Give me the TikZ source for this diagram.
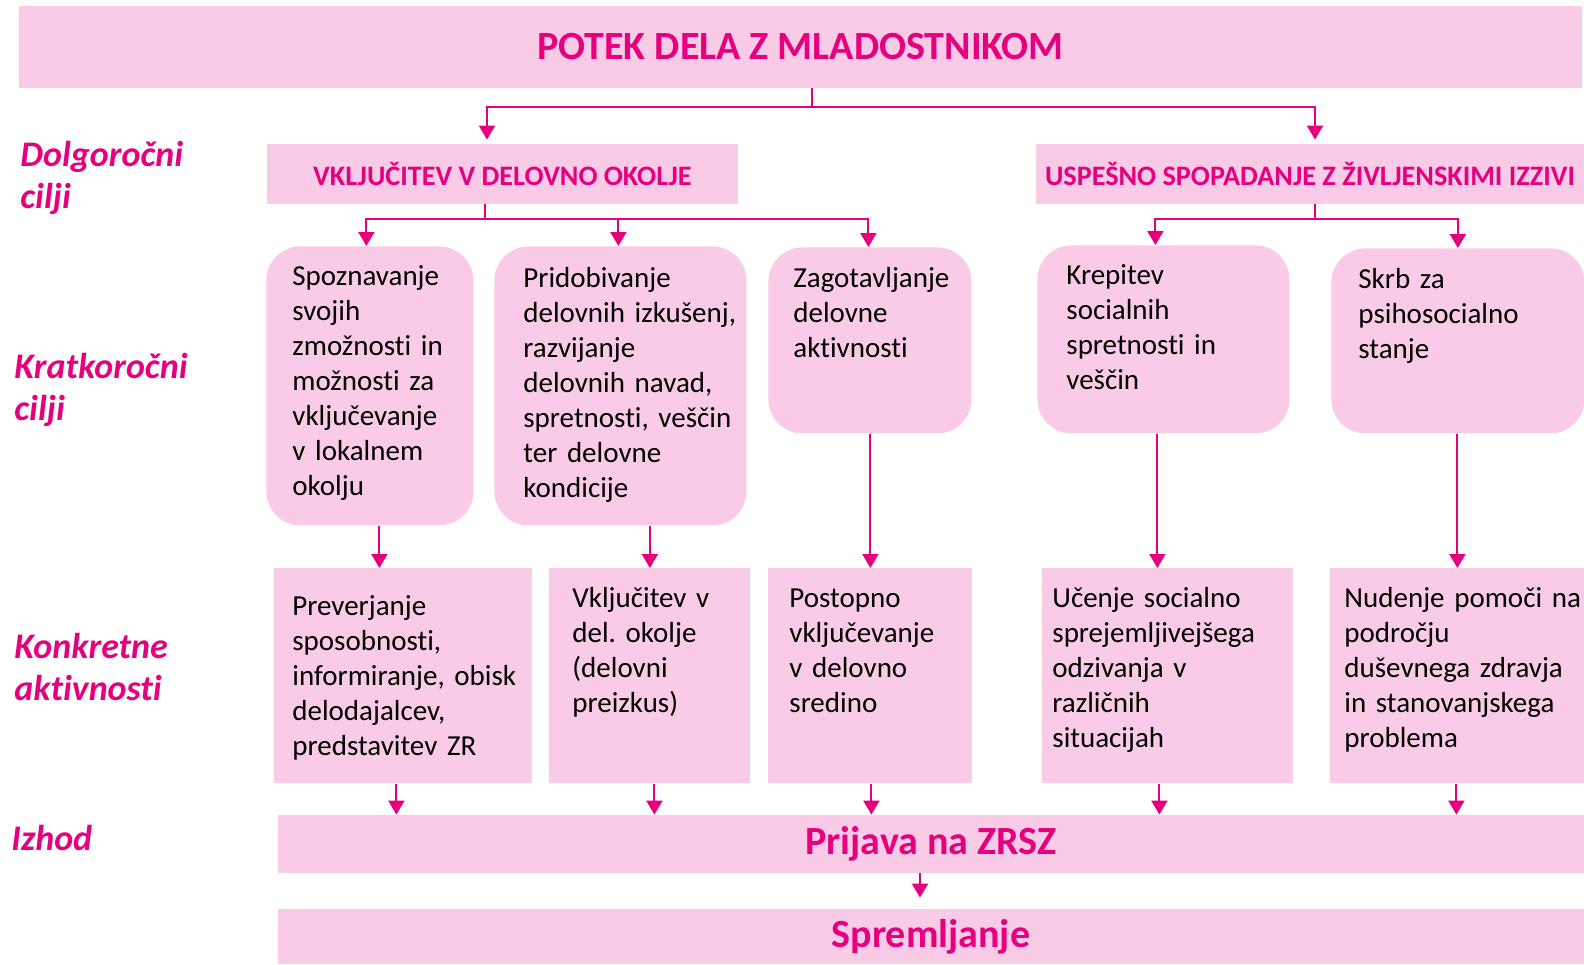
\documentclass[tikz,border=0pt]{standalone}
\usepackage{fontspec}
\setmainfont{Carlito}[Ligatures=NoCommon]
\usetikzlibrary{arrows.meta}

\definecolor{rosefill}{RGB}{249,203,231}
\definecolor{magentaline}{RGB}{230,0,126}

\newcommand{\titlesize}{\fontsize{20}{24}\selectfont}
\newcommand{\headsize}{\fontsize{14.1}{17}\selectfont}
\newcommand{\bodysize}{\fontsize{14.5}{17.5}\selectfont\frenchspacing}
\newcommand{\labelsize}{\fontsize{18}{21}\selectfont}

\tikzset{
  link/.style={draw=magentaline, line width=1pt},
  arrow/.style={link, -{Triangle[length=7pt,width=8pt]}},
  banner/.style={fill=rosefill, text=magentaline, inner sep=0pt, align=center},
  goalbox/.style={fill=rosefill, rounded corners=17pt, anchor=north west, inner sep=0pt, align=left, font=\bodysize},
  taskbox/.style={fill=rosefill, anchor=north west, inner sep=0pt, align=left, font=\bodysize},
  cell/.style n args={4}{text width=#1, execute at begin node={\leftskip=#2}, text height=#3, text depth=#4},
  sidelabel/.style={anchor=base west, align=left, inner sep=0pt, text=magentaline, font=\labelsize\bfseries\itshape}
}

\begin{document}
\begin{tikzpicture}[x=0.5pt, y=-0.5pt]
\useasboundingbox (0,0) rectangle (1584,964);

% top and long-term goals
\node[banner, minimum width=781.5pt, minimum height=41pt, font=\titlesize\bfseries] (title) at (800.5,47) {POTEK DELA Z MLADOSTNIKOM};
\node[banner, minimum width=235.5pt, minimum height=30pt, font=\headsize\bfseries] (hdrA) at (502.5,174) {VKLJUČITEV V DELOVNO OKOLJE};
\node[banner, minimum width=274pt, minimum height=30pt, font=\headsize\bfseries] (hdrB) at (1310,174) {USPEŠNO SPOPADANJE Z ŽIVLJENSKIMI IZZIVI};

% short-term goals
\node[goalbox, cell={103.5pt}{13pt}{19.5pt}{120pt}] (gA) at (266,246) {Spoznavanje\\svojih\\zmožnosti in\\možnosti za\\vključevanje\\v lokalnem\\okolju};
\node[goalbox, cell={126pt}{14.5pt}{20.5pt}{119pt}] (gB) at (494,246) {Pridobivanje\\delovnih izkušenj,\\razvijanje\\delovnih navad,\\spretnosti, veščin\\ter delovne\\kondicije};
\node[goalbox, cell={101.5pt}{12.5pt}{20pt}{73pt}] (gC) at (768,247) {Zagotavljanje\\delovne\\aktivnosti};
\node[goalbox, cell={126pt}{14.5pt}{19.5pt}{74.5pt}] (gD) at (1037,245) {Krepitev\\socialnih\\spretnosti in\\veščin};
\node[goalbox, cell={126.5pt}{13.5pt}{20pt}{72.5pt}] (gE) at (1331,248) {Skrb za\\psihosocialno\\stanje};

% concrete activities
\node[taskbox, cell={129pt}{9pt}{23.5pt}{84pt}] (aA) at (274,568) {Preverjanje\\sposobnosti,\\informiranje, obisk\\delodajalcev,\\predstavitev ZR};
\node[taskbox, cell={100.5pt}{11.5pt}{19.5pt}{88pt}] (aB) at (549,568) {Vključitev v\\del. okolje\\(delovni\\preizkus)};
\node[taskbox, cell={102pt}{10.5pt}{19.5pt}{88pt}] (aC) at (768,568) {Postopno\\vključevanje\\v delovno\\sredino};
\node[taskbox, cell={125.5pt}{5pt}{19.5pt}{88pt}] (aD) at (1042,568) {Učenje socialno\\sprejemljivejšega\\odzivanja v\\različnih\\situacijah};
\node[taskbox, cell={127pt}{7pt}{19.5pt}{88pt}] (aE) at (1330,568) {Nudenje pomoči na\\področju\\duševnega zdravja\\in stanovanjskega\\problema};

% outcome
\node[banner, minimum width=653pt, minimum height=29pt, font=\titlesize\bfseries] (out) at (931,844) {Prijava na ZRSZ};
\node[banner, minimum width=653pt, minimum height=27.5pt, font=\titlesize\bfseries] (follow) at (931,936.5) {Spremljanje};

% row labels
\node[sidelabel] (longterm) at (20,208) {Dolgoročni\\cilji};
\node[sidelabel] (shortterm) at (14,420) {Kratkoročni\\cilji};
\node[sidelabel] (concrete) at (14,700) {Konkretne\\aktivnosti};
\node[sidelabel] (exit) at (11,850) {Izhod};

% connectors
\coordinate (forkTop) at (812,107);
\draw[link] (title.south -| forkTop) -- (forkTop);
\draw[arrow, shorten >=2pt] (forkTop) -| ([xshift=-7.75pt]hdrA.north);
\draw[arrow, shorten >=2pt] (forkTop) -| ([xshift=2.5pt]hdrB.north);

\coordinate (forkA) at (485,219);
\draw[link] (hdrA.south -| forkA) -- (forkA);
\foreach \g/\dx in {gA/-1.75pt, gB/-1pt, gC/-0.75pt}
  \draw[arrow] (forkA) -| ([xshift=\dx]\g.north);

\coordinate (forkB) at (1315,219);
\draw[link] (hdrB.south -| forkB) -- (forkB);
\draw[arrow] (forkB) -| ([xshift=-4pt]gD.north);
\draw[arrow] (forkB) -| (gE.north);

\draw[arrow] ([xshift=4.75pt]gA.south) -- ([xshift=4.75pt]gA.south |- aA.north);
\draw[arrow] (gB.south -| aB.north) -- (aB.north);
\draw[arrow] (gC.south -| aC.north) -- (aC.north);
\draw[arrow] ([xshift=-3pt]gD.south) -- ([xshift=-3pt]gD.south |- aD.north);
\draw[arrow] (gE.south -| aE.north) -- (aE.north);

\foreach \t/\dx in {aA/-3.5pt, aB/2.25pt, aC/0.5pt, aD/-4.25pt, aE/-0.5pt}
  \draw[arrow] ([xshift=\dx]\t.south) -- ([xshift=\dx]\t.south |- out.north);

\draw[arrow, shorten >=5.5pt] ([xshift=-5.5pt]out.south) -- ([xshift=-5.5pt]out.south |- follow.north);
\end{tikzpicture}
\end{document}
